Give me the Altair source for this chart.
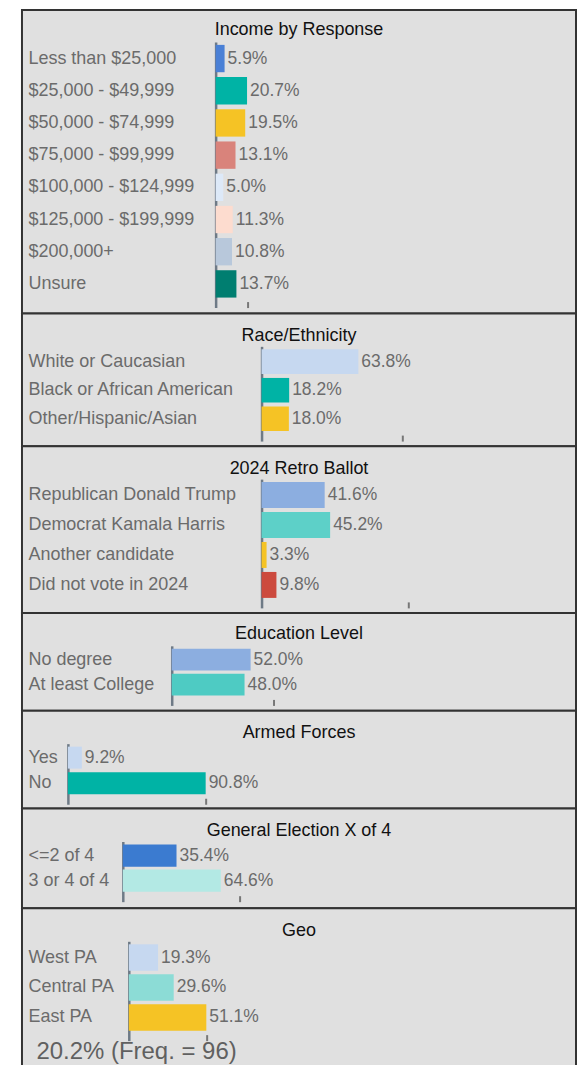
import altair as alt
import pandas as pd

# ---------------- data ----------------
panel_titles = ["Income by Response", "Race/Ethnicity", "2024 Retro Ballot",
                "Education Level", "Armed Forces", "General Election X of 4", "Geo"]

income_labels = ["Less than $25,000", "$25,000 - $49,999", "$50,000 - $74,999",
                 "$75,000 - $99,999", "$100,000 - $124,999", "$125,000 - $199,999",
                 "$200,000+", "Unsure"]
income_values = [5.9, 20.7, 19.5, 13.1, 5.0, 11.3, 10.8, 13.7]
income_colors = ["#4a80d6", "#00b3a5", "#f5c325", "#d9837b", "#dde9f8", "#fddccf", "#b8c8db", "#007e70"]

race_labels = ["White or Caucasian", "Black or African American", "Other/Hispanic/Asian"]
race_values = [63.8, 18.2, 18.0]
race_colors = ["#c6d8f0", "#00b3a5", "#f5c325"]

retro_labels = ["Republican Donald Trump", "Democrat Kamala Harris", "Another candidate", "Did not vote in 2024"]
retro_values = [41.6, 45.2, 3.3, 9.8]
retro_colors = ["#8caee0", "#5dd0c8", "#f5c325", "#cc4a3e"]

edu_labels = ["No degree", "At least College"]
edu_values = [52.0, 48.0]
edu_colors = ["#8caee0", "#4ecbc3"]

armed_labels = ["Yes", "No"]
armed_values = [9.2, 90.8]
armed_colors = ["#c6d8f0", "#00b3a5"]

gen_labels = ["<=2 of 4", "3 or 4 of 4"]
gen_values = [35.4, 64.6]
gen_colors = ["#3b7bd0", "#b3e9e4"]

geo_labels = ["West PA", "Central PA", "East PA"]
geo_values = [19.3, 29.6, 51.1]
geo_colors = ["#c6d8f0", "#8cdcd6", "#f5c325"]

tick_values = [21, 93, 97, 67, 91, 77, 51]
footer_text = "20.2% (Freq. = 96)"

# ---------------- style ----------------
FONT = "Liberation Sans"
PANEL_W = 555
panel_heights = [304, 133, 167, 98, 98, 100, 170]
axis_x = [194, 240, 240, 150, 46, 101, 107]
row_steps = [32.25, 28.65, 30.0, 25.0, 25.7, 25.0, 30.0]
bar_heights = [27.4, 24.6, 26.0, 21.7, 22.0, 22.3, 26.5]
top_adjust = [-1, 0, 0, 0, 0, 0, 0]
title_baselines = [26, 29, 28.5, 27.5, 28, 29, 29]
TITLE_SHIFT = 17
FOOTER_BASELINE = 150
PX_PER_100 = 152
LABEL_COLOR = "#6b6b6b"


def make_panel(i, title, labels, values, colors, tick, footer=None):
    df = pd.DataFrame({"cat": labels, "val": values,
                       "lab": [f"{v:.1f}%" for v in values]})
    n = len(labels)
    H = panel_heights[i]
    ax = axis_x[i]
    step = row_steps[i]
    bw = bar_heights[i]
    r0 = 33 + top_adjust[i]
    first = 36 + top_adjust[i]
    last_end = first + (n - 1) * step + bw
    r1 = last_end + 10
    span = r1 - r0
    pi = 1 - bw / step
    po = (span / step - n + pi) / 2
    al = (first - r0) / (span - step * (n - pi))

    yscale = alt.Scale(domain=labels, range=[r0, r1], paddingInner=pi,
                       paddingOuter=po, align=al)
    xscale = alt.Scale(domain=[0, 100], range=[ax, ax + PX_PER_100])

    yaxis = alt.Axis(title=None, orient="left", offset=-ax, domain=True,
                     domainColor="#6e7a86", domainWidth=2.5, ticks=False, tickSize=0,
                     labelAlign="left", labelBaseline="middle", labelPadding=ax - 6,
                     labelFont=FONT, labelFontSize=18, labelColor=LABEL_COLOR,
                     labelLimit=400, labelOverlap=False, grid=False)
    axis_y = r1 - 6
    xaxis_kw = dict(orient="bottom", offset=-(H - axis_y), values=[tick],
                    domain=False, labels=False, ticks=True, tickSize=6,
                    tickColor="#777777", tickWidth=2, grid=False)
    if footer:
        xaxis_kw.update(title=footer, titleX=14, titleY=FOOTER_BASELINE - axis_y,
                        titleAlign="left", titleBaseline="alphabetic",
                        titleFont=FONT, titleFontSize=24, titleFontWeight="normal",
                        titleColor="#606060", titleAnchor="start")
    else:
        xaxis_kw.update(title=None)
    xaxis = alt.Axis(**xaxis_kw)

    base = alt.Chart(df)
    bars = base.mark_bar().encode(
        x=alt.X("val:Q", scale=xscale, axis=xaxis),
        y=alt.Y("cat:N", sort=labels, scale=yscale, axis=yaxis),
        color=alt.Color("cat:N", scale=alt.Scale(domain=labels, range=colors), legend=None),
    )
    text = base.mark_text(align="left", baseline="middle", dx=3, font=FONT,
                          fontSize=17.5, color=LABEL_COLOR).encode(
        x=alt.X("val:Q", scale=xscale),
        y=alt.Y("cat:N", sort=labels, scale=yscale),
        text="lab:N",
    )
    return alt.layer(bars, text).properties(
        width=PANEL_W, height=H,
        title=alt.TitleParams(text=title, anchor="middle", frame="group",
                              offset=-(title_baselines[i] + TITLE_SHIFT),
                              baseline="alphabetic",
                              font=FONT, fontSize=18, fontWeight="normal", color="#111111"),
    )


panels = [
    make_panel(0, panel_titles[0], income_labels, income_values, income_colors, tick_values[0]),
    make_panel(1, panel_titles[1], race_labels, race_values, race_colors, tick_values[1]),
    make_panel(2, panel_titles[2], retro_labels, retro_values, retro_colors, tick_values[2]),
    make_panel(3, panel_titles[3], edu_labels, edu_values, edu_colors, tick_values[3]),
    make_panel(4, panel_titles[4], armed_labels, armed_values, armed_colors, tick_values[4]),
    make_panel(5, panel_titles[5], gen_labels, gen_values, gen_colors, tick_values[5]),
    make_panel(6, panel_titles[6], geo_labels, geo_values, geo_colors, tick_values[6], footer=footer_text),
]

chart = alt.vconcat(*panels, spacing=0, bounds="flush").resolve_scale(
    x="independent", y="independent", color="independent"
).configure_view(
    fill="#e0e0e0", stroke="#333333", strokeWidth=2
).properties(
    padding={"left": 13, "top": 0, "right": 0, "bottom": 0},
    background="white",
)

chart.save("out.html", embed_options={"renderer": "svg", "actions": False})
